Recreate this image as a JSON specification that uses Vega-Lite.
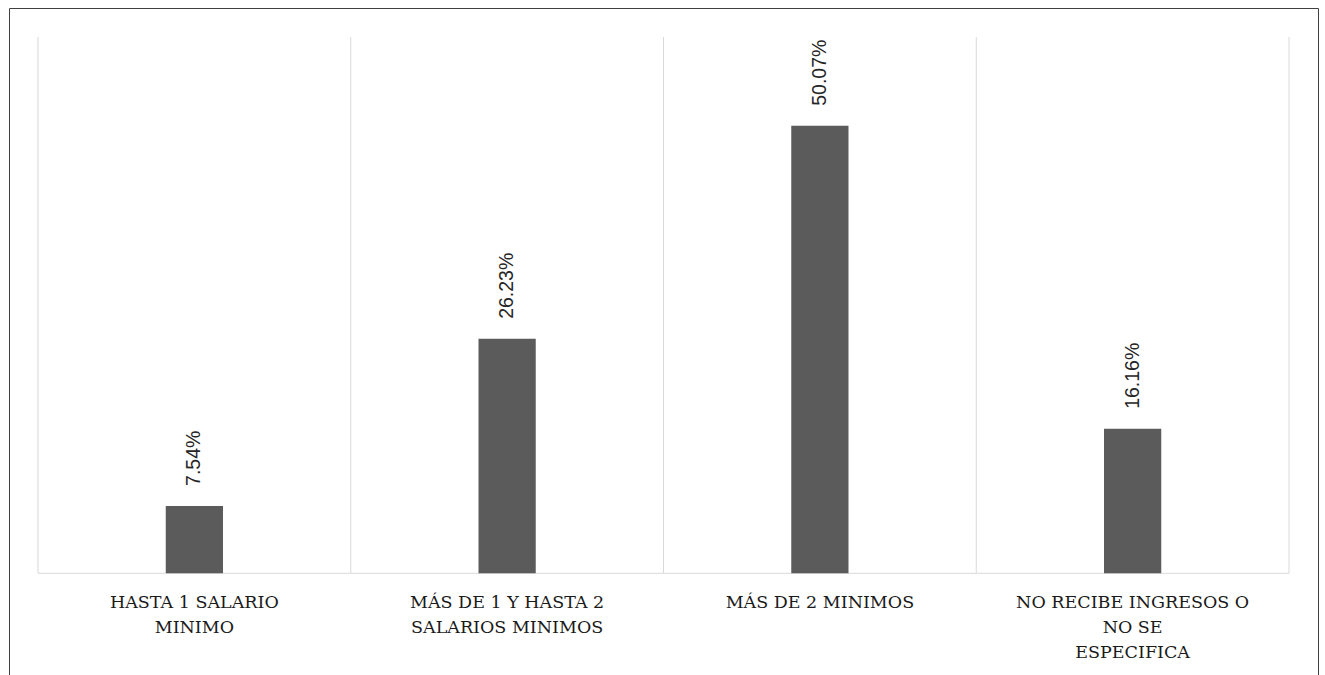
{
  "$schema": "https://vega.github.io/schema/vega-lite/v6.json",
  "width": 1309,
  "height": 669,
  "autosize": {"type": "none"},
  "padding": {"left": 9, "top": 8, "right": 7, "bottom": -2},
  "background": "white",
  "config": {
    "view": {"stroke": "#404040", "strokeWidth": 1}
  },
  "data": {
    "values": [
      {"categoria": "HASTA 1 SALARIO\nMINIMO", "valor": 7.54, "texto": "7.54%"},
      {"categoria": "MÁS DE 1 Y HASTA 2\nSALARIOS MINIMOS", "valor": 26.23, "texto": "26.23%"},
      {"categoria": "MÁS DE 2  MINIMOS", "valor": 50.07, "texto": "50.07%"},
      {"categoria": "NO RECIBE INGRESOS O\nNO SE\nESPECIFICA", "valor": 16.16, "texto": "16.16%"}
    ]
  },
  "encoding": {
    "x": {
      "field": "categoria",
      "type": "nominal",
      "sort": null,
      "axis": null,
      "scale": {"paddingInner": 0, "paddingOuter": 0.0927}
    }
  },
  "layer": [
    {
      "mark": {"type": "rule", "color": "#d9d9d9", "strokeWidth": 1},
      "encoding": {
        "x": {"field": "categoria", "type": "nominal", "sort": null, "bandPosition": 0},
        "y": {"datum": 0, "type": "quantitative", "axis": null,
              "scale": {"domain": [-11.602, 63.245], "nice": false, "zero": false}},
        "y2": {"datum": 60}
      }
    },
    {
      "transform": [{"filter": "datum.valor == 16.16"}],
      "mark": {"type": "rule", "color": "#d9d9d9", "strokeWidth": 1},
      "encoding": {
        "x": {"field": "categoria", "type": "nominal", "sort": null, "bandPosition": 1},
        "y": {"datum": 0, "type": "quantitative"},
        "y2": {"datum": 60}
      }
    },
    {
      "mark": {"type": "rule", "color": "#d9d9d9", "strokeWidth": 1},
      "encoding": {
        "x": {"field": "categoria", "type": "nominal", "sort": null, "bandPosition": 0},
        "x2": {"field": "categoria", "bandPosition": 1},
        "y": {"datum": 0, "type": "quantitative"}
      }
    },
    {
      "mark": {"type": "bar", "color": "#5b5b5b", "width": {"band": 0.183}},
      "encoding": {
        "y": {"field": "valor", "type": "quantitative"},
        "y2": {"datum": 0}
      }
    },
    {
      "mark": {
        "type": "text",
        "angle": 270,
        "align": "left",
        "baseline": "middle",
        "dx": 20,
        "font": "Liberation Sans",
        "fontSize": 19.5,
        "color": "#262626"
      },
      "encoding": {
        "y": {"field": "valor", "type": "quantitative"},
        "text": {"field": "texto"}
      }
    },
    {
      "mark": {
        "type": "text",
        "align": "center",
        "baseline": "alphabetic",
        "dy": 35,
        "lineBreak": "\n",
        "lineHeight": 25,
        "font": "DejaVu Serif",
        "fontSize": 17.5,
        "color": "#1a1a1a"
      },
      "encoding": {
        "y": {"datum": 0, "type": "quantitative"},
        "text": {"field": "categoria"}
      }
    }
  ]
}
